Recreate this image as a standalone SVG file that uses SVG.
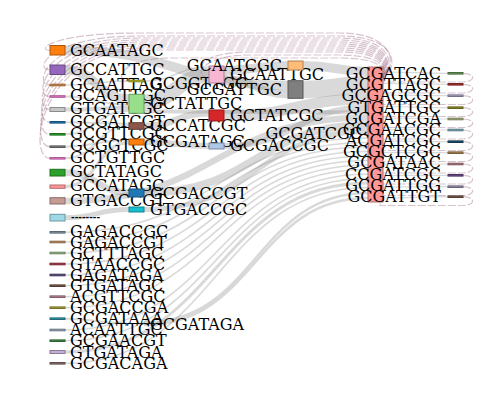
<svg xmlns="http://www.w3.org/2000/svg" width="500" height="404" viewBox="0 0 500 404">
<style>
.lk{fill:none;stroke:#8c8c8c;stroke-opacity:.33}
.cl{fill:none;stroke:#9a6a84;stroke-opacity:.4;stroke-width:1.2;stroke-dasharray:8 2}
rect{stroke-width:1}
text{font-family:"DejaVu Serif","Liberation Serif",serif;font-size:16px;fill:#000}
.e{text-anchor:end}
</style>
<rect width="500" height="404" fill="#fff" stroke="none"/>
<g id="connectors">
<path class="cl" d="M463 73.3C476 73.3 476 82 462 82L380 82L380 80C398 70 398 33 340 33L140 33C50 33 36 50.3 50 50.3"/>
<path class="cl" d="M463 84.3C476 84.3 476 93 462 93L380 93L380 80C400 70 400 36 340 36L140 36C48 36 33 69.8 50 69.8"/>
<path class="cl" d="M463 95.7C476 95.7 476 104.5 462 104.5L380 104.5L380 80C396 70 396 38 340 38L140 38C47 38 32 85 50 85"/>
<path class="cl" d="M463 107.7C476 107.7 476 116.5 462 116.5L380 116.5L380 80C394 70 394 40 340 40L140 40C46 40 31 96.5 50 96.5"/>
<path class="cl" d="M463 119C476 119 476 127.5 462 127.5L380 127.5L380 80C393 70 393 42 340 42L140 42C45 42 30 109.5 50 109.5"/>
<path class="cl" d="M463 130C476 130 476 139 462 139L380 139L380 80C392 70 392 44 340 44L140 44C44 44 29 122.3 50 122.3"/>
<path class="cl" d="M463 141.7C476 141.7 476 150.5 462 150.5L380 150.5L380 80C391 70 391 46 340 46L140 46C43 46 28 134.3 50 134.3"/>
<path class="cl" d="M463 152.7C476 152.7 476 161.5 462 161.5L380 161.5L380 80C390 70 390 48 340 48L140 48C42 48 27 146.7 50 146.7"/>
<path class="cl" d="M463 164C476 164 476 173 462 173L380 173L380 80C389 70 389 50 340 50L140 50C41 50 26 158.3 50 158.3"/>
<path class="cl" d="M463 175.3C476 175.3 476 184 462 184L380 184L380 80C389 72 389 52 340 52L250 52C200 52 194 70 209 70"/>
<path class="cl" d="M463 186.7C476 186.7 476 195.5 462 195.5L380 195.5L380 80C388 72 388 55 340 55L250 55C199 55 193 78 209 78"/>
<path class="cl" d="M463 196.7C476 196.7 476 205.5 462 205.5L380 205.5L380 80C387 73 387 58 340 58L170 58C120 58 114 81 129 81"/>

<path class="lk" stroke-width="9.5" d="M65 50.3C176.5 50.3 176.5 85.5 288 85.5"/>
<path class="lk" stroke-width="9.5" d="M65 69.8C97 69.8 97 99 129 99"/>
<path class="lk" stroke-width="1.6" d="M65 85C97 85 97 81 129 81"/>
<path class="lk" stroke-width="2" d="M65 96.5C97 96.5 97 104.8 129 104.8"/>
<path class="lk" stroke-width="4" d="M65 109.5C97 109.5 97 107.8 129 107.8"/>
<path class="lk" stroke-width="2" d="M65 122.3C97 122.3 97 123.7 129 123.7"/>
<path class="lk" stroke-width="2" d="M65 134.3C97 134.3 97 110.8 129 110.8"/>
<path class="lk" stroke-width="2" d="M65 146.7C97 146.7 97 140 129 140"/>
<path class="lk" stroke-width="2" d="M65 158.3C97 158.3 97 125.7 129 125.7"/>
<path class="lk" stroke-width="6.7" d="M65 172.7C97 172.7 97 192.3 129 192.3"/>
<path class="lk" stroke-width="3.3" d="M65 186.7C97 186.7 97 142.7 129 142.7"/>
<path class="lk" stroke-width="6.3" d="M65 201C216.5 201 216.5 117.7 368 117.7"/>
<path class="lk" stroke-width="5" d="M65 217.7C97 217.7 97 209.5 129 209.5"/>
<path class="lk" stroke-width="1.6" d="M65 232.3C216.5 232.3 216.5 138 368 138"/>
<path class="lk" stroke-width="1.6" d="M65 242C216.5 242 216.5 142.5 368 142.5"/>
<path class="lk" stroke-width="1.6" d="M65 253C216.5 253 216.5 147 368 147"/>
<path class="lk" stroke-width="1.6" d="M65 264C216.5 264 216.5 151.5 368 151.5"/>
<path class="lk" stroke-width="1.6" d="M65 275C216.5 275 216.5 156 368 156"/>
<path class="lk" stroke-width="1.6" d="M65 285.7C216.5 285.7 216.5 160.5 368 160.5"/>
<path class="lk" stroke-width="1.6" d="M65 296.7C216.5 296.7 216.5 165 368 165"/>
<path class="lk" stroke-width="1.6" d="M65 307.7C216.5 307.7 216.5 169.5 368 169.5"/>
<path class="lk" stroke-width="2" d="M65 318.7C97 318.7 97 323.5 129 323.5"/>
<path class="lk" stroke-width="1.6" d="M65 330C216.5 330 216.5 174 368 174"/>
<path class="lk" stroke-width="1.6" d="M65 340.7C216.5 340.7 216.5 178.5 368 178.5"/>
<path class="lk" stroke-width="3" d="M65 352C216.5 352 216.5 183 368 183"/>
<path class="lk" stroke-width="1.6" d="M65 363.3C216.5 363.3 216.5 187.5 368 187.5"/>
<path class="lk" stroke-width="2.5" d="M144 322.5C256 322.5 256 193 368 193"/>
<path class="lk" stroke-width="2.5" d="M144 325C256 325 256 198 368 198"/>

<path class="lk" stroke-width="1.6" d="M144 81C176.5 81 176.5 67 209 67"/>
<path class="lk" stroke-width="15" d="M144 101.8C176.5 101.8 176.5 75.5 209 75.5"/>
<path class="lk" stroke-width="4" d="M144 111.3C256 111.3 256 112.6 368 112.6"/>
<path class="lk" stroke-width="6.6" d="M144 126C176.5 126 176.5 113.3 209 113.3"/>
<path class="lk" stroke-width="6" d="M144 142C176.5 142 176.5 146 209 146"/>
<path class="lk" stroke-width="8" d="M144 193C256 193 256 124.9 368 124.9"/>
<path class="lk" stroke-width="5" d="M144 209.5C256 209.5 256 131.4 368 131.4"/>

<path class="lk" stroke-width="9" d="M224 70.5C256 70.5 256 65.5 288 65.5"/>
<path class="lk" stroke-width="8" d="M224 79C256 79 256 94.2 288 94.2"/>
<path class="lk" stroke-width="11" d="M224 115.5C296 115.5 296 99.1 368 99.1"/>
<path class="lk" stroke-width="6" d="M224 146C296 146 296 107.6 368 107.6"/>

<path class="lk" stroke-width="9" d="M303 65.5C335.5 65.5 335.5 71.5 368 71.5"/>
<path class="lk" stroke-width="17.6" d="M303 89.5C335.5 89.5 335.5 84.8 368 84.8"/>

<path class="lk" stroke-width="1.2" stroke-opacity=".2" d="M383 72C415 72 415 73.3 448 73.3"/>
<path class="lk" stroke-width="1.2" stroke-opacity=".2" d="M383 83.5C415 83.5 415 84.3 448 84.3"/>
<path class="lk" stroke-width="1.2" stroke-opacity=".2" d="M383 95C415 95 415 95.7 448 95.7"/>
<path class="lk" stroke-width="1.2" stroke-opacity=".2" d="M383 106.5C415 106.5 415 107.7 448 107.7"/>
<path class="lk" stroke-width="1.2" stroke-opacity=".2" d="M383 118C415 118 415 119 448 119"/>
<path class="lk" stroke-width="1.2" stroke-opacity=".2" d="M383 129.5C415 129.5 415 130 448 130"/>
<path class="lk" stroke-width="1.2" stroke-opacity=".2" d="M383 141C415 141 415 141.7 448 141.7"/>
<path class="lk" stroke-width="1.2" stroke-opacity=".2" d="M383 152.5C415 152.5 415 152.7 448 152.7"/>
<path class="lk" stroke-width="1.2" stroke-opacity=".2" d="M383 164C415 164 415 164 448 164"/>
<path class="lk" stroke-width="1.2" stroke-opacity=".2" d="M383 175.5C415 175.5 415 175.3 448 175.3"/>
<path class="lk" stroke-width="1.2" stroke-opacity=".2" d="M383 187C415 187 415 186.7 448 186.7"/>
<path class="lk" stroke-width="1.2" stroke-opacity=".2" d="M383 198C415 198 415 196.7 448 196.7"/>
</g>

<g id="n-GCAATAGC"><rect x="50" y="45.5" width="15" height="9.5" fill="#ff7f0e" stroke="#b25809"/><text x="70" y="55.5">GCAATAGC</text></g>
<g id="n-GCCATTGC"><rect x="50" y="65" width="15" height="9.5" fill="#9467bd" stroke="#674884"/><text x="70" y="75">GCCATTGC</text></g>
<g id="n-GCAATTAG"><rect x="50" y="84.2" width="15" height="1.6" fill="#c8844a" stroke="#a0622e"/><text x="70" y="89.5">GCAATTAG</text></g>
<g id="n-GCAGTTGC"><rect x="50" y="95.7" width="15" height="1.6" fill="#e377c2" stroke="#b05a96"/><text x="70" y="101">GCAGTTGC</text></g>
<g id="n-GTGATCGC"><rect x="50" y="107.5" width="15" height="4" fill="#c7c7c7" stroke="#8b8b8b"/><text x="70" y="113.5">GTGATCGC</text></g>
<g id="n-GCGATCGT"><rect x="50" y="121.5" width="15" height="1.6" fill="#1f77b4" stroke="#15537d"/><text x="70" y="127">GCGATCGT</text></g>
<g id="n-GCGTTCGC"><rect x="50" y="133.5" width="15" height="1.6" fill="#2ca02c" stroke="#1e701e"/><text x="70" y="139">GCGTTCGC</text></g>
<g id="n-GCGGTCGC"><rect x="50" y="145.9" width="15" height="1.6" fill="#7f7f7f" stroke="#595959"/><text x="70" y="151">GCGGTCGC</text></g>
<g id="n-GCTGTTGC"><rect x="50" y="157.5" width="15" height="1.6" fill="#e377c2" stroke="#b05a96"/><text x="70" y="163">GCTGTTGC</text></g>
<g id="n-GCTATAGC"><rect x="50" y="169.3" width="15" height="6.7" fill="#2ca02c" stroke="#1e701e"/><text x="70" y="177">GCTATAGC</text></g>
<g id="n-GCCATAGC"><rect x="50" y="185" width="15" height="3.3" fill="#ff9896" stroke="#b26a69"/><text x="70" y="191">GCCATAGC</text></g>
<g id="n-GTGACCGT"><rect x="50" y="197.7" width="15" height="6.3" fill="#c49c94" stroke="#896d67"/><text x="70" y="206">GTGACCGT</text></g>
<g id="n-dash"><rect x="50" y="214.3" width="15" height="6.7" fill="#9edae5" stroke="#6e98a0"/><text x="71" y="221.5" textLength="29" lengthAdjust="spacingAndGlyphs">--------</text></g>
<g id="n-GAGACCGC"><rect x="50" y="231.5" width="15" height="1.6" fill="#8094a8" stroke="#5a6876"/><text x="70" y="237.3">GAGACCGC</text></g>
<g id="n-GAGACCGT"><rect x="50" y="241.2" width="15" height="1.6" fill="#c09060" stroke="#866543"/><text x="70" y="247.5">GAGACCGT</text></g>
<g id="n-GCTTTAGC"><rect x="50" y="252.2" width="15" height="1.6" fill="#98bb88" stroke="#6a835f"/><text x="70" y="258.5">GCTTTAGC</text></g>
<g id="n-GTAACCGC"><rect x="50" y="263.2" width="15" height="1.6" fill="#a83640" stroke="#76262d"/><text x="70" y="269.5">GTAACCGC</text></g>
<g id="n-GAGATAGA"><rect x="50" y="274.2" width="15" height="1.6" fill="#5a4a82" stroke="#3f345b"/><text x="70" y="280.5">GAGATAGA</text></g>
<g id="n-GTGATAGC"><rect x="50" y="284.9" width="15" height="1.6" fill="#7a5646" stroke="#553c31"/><text x="70" y="291">GTGATAGC</text></g>
<g id="n-ACGTTCGC"><rect x="50" y="295.9" width="15" height="1.6" fill="#b8869a" stroke="#815e6c"/><text x="70" y="302">ACGTTCGC</text></g>
<g id="n-GCGACCGA"><rect x="50" y="306.9" width="15" height="1.6" fill="#a8a23c" stroke="#76712a"/><text x="70" y="313">GCGACCGA</text></g>
<g id="n-GCGATAAA"><rect x="50" y="317.9" width="15" height="1.6" fill="#2f98a8" stroke="#216a76"/><text x="70" y="324">GCGATAAA</text></g>
<g id="n-ACAATTGC"><rect x="50" y="329.2" width="15" height="1.6" fill="#96a6b8" stroke="#697481"/><text x="70" y="335">ACAATTGC</text></g>
<g id="n-GCGAACGT"><rect x="50" y="339.9" width="15" height="1.6" fill="#3f8a46" stroke="#2c6131"/><text x="70" y="346">GCGAACGT</text></g>
<g id="n-GTGATAGA"><rect x="50" y="350.5" width="15" height="3" fill="#c5b0d5" stroke="#8a7b95"/><text x="70" y="357.5">GTGATAGA</text></g>
<g id="n-GCGACAGA"><rect x="50" y="362.5" width="15" height="1.6" fill="#8c7070" stroke="#624e4e"/><text x="70" y="369">GCGACAGA</text></g>

<g id="n-GCGGTTGC"><rect x="129" y="80.2" width="15" height="1.6" fill="#bcbd22" stroke="#838418"/><text x="150" y="88.5">GCGGTTGC</text></g>
<g id="n-GCTATTGC"><rect x="129" y="94.3" width="15" height="19" fill="#98df8a" stroke="#6a9c60"/><text x="150" y="108.5">GCTATTGC</text></g>
<g id="n-GCCATCGC"><rect x="129" y="122.7" width="15" height="6.6" fill="#8c564b" stroke="#623c34"/><text x="150" y="131">GCCATCGC</text></g>
<g id="n-GCGATAGC"><rect x="129" y="139" width="15" height="6" fill="#ff7f0e" stroke="#b25809"/><text x="150" y="147">GCGATAGC</text></g>
<g id="n-GCGACCGT"><rect x="129" y="189" width="15" height="8" fill="#1f77b4" stroke="#15537d"/><text x="150" y="198.5">GCGACCGT</text></g>
<g id="n-GTGACCGC"><rect x="129" y="207" width="15" height="5" fill="#17becf" stroke="#108591"/><text x="150" y="214.5">GTGACCGC</text></g>
<g id="n-GCGATAGA"><text x="150" y="329.5">GCGATAGA</text></g>

<g id="n-GCAATTGC"><rect x="209" y="66" width="15" height="17" fill="#f7b6d2" stroke="#ad7f93"/><text x="230" y="80">GCAATTGC</text></g>
<g id="n-GCTATCGC"><rect x="209" y="110" width="15" height="11" fill="#d62728" stroke="#961b1c"/><text x="230" y="120.5">GCTATCGC</text></g>
<g id="n-GCGACCGC"><rect x="209" y="143" width="15" height="6" fill="#aec7e8" stroke="#7a8ba2"/><text x="230" y="151">GCGACCGC</text></g>

<g id="n-GCAATCGC"><rect x="288" y="61" width="15" height="9" fill="#ffbb78" stroke="#b28354"/><text class="e" x="282" y="70.5">GCAATCGC</text></g>
<g id="n-GCGATTGC"><rect x="288" y="80.7" width="15" height="17.6" fill="#7f7f7f" stroke="#595959"/><text class="e" x="282" y="94.5">GCGATTGC</text></g>

<g id="n-GCGATCGC"><rect x="368" y="67" width="15" height="135" fill="#ff9896" stroke="#b26a69"/><text class="e" x="362" y="138.5">GCGATCGC</text></g>

<g id="n-GCGATCAC"><rect x="448" y="72.5" width="15" height="1.6" fill="#6a9a5a" stroke="#4a6b3f"/><text class="e" x="441" y="79">GCGATCAC</text></g>
<g id="n-GCGTTAGC"><rect x="448" y="83.5" width="15" height="1.6" fill="#a83232" stroke="#762323"/><text class="e" x="441" y="89.5">GCGTTAGC</text></g>
<g id="n-GCGAGCGC"><rect x="448" y="94.9" width="15" height="1.6" fill="#a8a0c0" stroke="#767086"/><text class="e" x="441" y="100.5">GCGAGCGC</text></g>
<g id="n-GTGATTGC"><rect x="448" y="106.9" width="15" height="1.6" fill="#8c8c28" stroke="#62621c"/><text class="e" x="441" y="112.5">GTGATTGC</text></g>
<g id="n-GCGATCGA"><rect x="448" y="118.2" width="15" height="1.6" fill="#a8b078" stroke="#767b54"/><text class="e" x="441" y="123.5">GCGATCGA</text></g>
<g id="n-GCGAACGC"><rect x="448" y="129.2" width="15" height="1.6" fill="#7aacb8" stroke="#557881"/><text class="e" x="441" y="135">GCGAACGC</text></g>
<g id="n-ACGATCGC"><rect x="448" y="140.9" width="15" height="1.6" fill="#1f5070" stroke="#15384e"/><text class="e" x="441" y="146">ACGATCGC</text></g>
<g id="n-GCGCTCGC"><rect x="448" y="151.9" width="15" height="1.6" fill="#a88450" stroke="#765c38"/><text class="e" x="441" y="157">GCGCTCGC</text></g>
<g id="n-GCGATAAC"><rect x="448" y="163.2" width="15" height="1.6" fill="#b07880" stroke="#7b545a"/><text class="e" x="441" y="168">GCGATAAC</text></g>
<g id="n-CCGATCGC"><rect x="448" y="174.5" width="15" height="1.6" fill="#6a4a88" stroke="#4a345f"/><text class="e" x="441" y="179.5">CCGATCGC</text></g>
<g id="n-GCGATTGG"><rect x="448" y="185.9" width="15" height="1.6" fill="#9a90a8" stroke="#6c6576"/><text class="e" x="441" y="190.5">GCGATTGG</text></g>
<g id="n-GCGATTGT"><rect x="448" y="195.9" width="15" height="1.6" fill="#7a5a4a" stroke="#553f34"/><text class="e" x="441" y="201.5">GCGATTGT</text></g>
</svg>
